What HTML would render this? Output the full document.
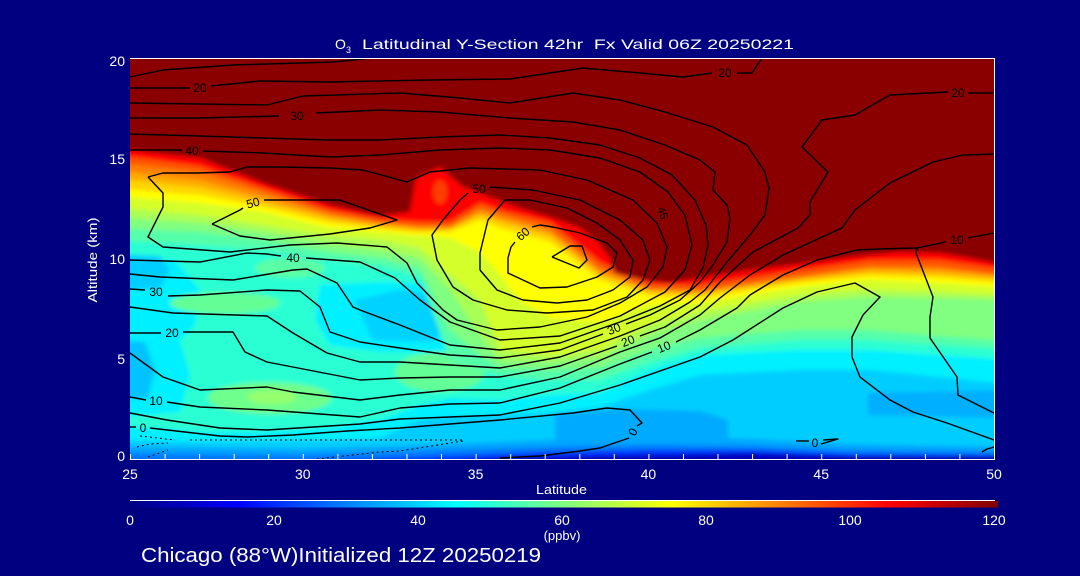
<!DOCTYPE html>
<html><head><meta charset="utf-8"><style>
html,body{margin:0;padding:0;background:#000080;}
svg{display:block;}
text{font-family:"Liberation Sans",sans-serif;}
</style></head><body>
<svg width="1080" height="576" viewBox="0 0 1080 576" xmlns="http://www.w3.org/2000/svg">
<defs>
<clipPath id="c"><rect x="130" y="58" width="864" height="401"/></clipPath>
<filter id="b" x="-5%" y="-5%" width="110%" height="110%"><feGaussianBlur stdDeviation="2"/></filter>
<linearGradient id="jet" x1="0" y1="0" x2="1" y2="0">
<stop offset="0" stop-color="#000080"/><stop offset="0.125" stop-color="#0000ff"/><stop offset="0.375" stop-color="#00ffff"/><stop offset="0.625" stop-color="#ffff00"/><stop offset="0.875" stop-color="#ff0000"/><stop offset="1" stop-color="#800000"/>
</linearGradient>
</defs>
<rect width="1080" height="576" fill="#000080"/>

<g clip-path="url(#c)">
<g filter="url(#b)">
<rect x="100" y="40" width="930" height="440" fill="rgb(0,205,255)"/>
<polygon fill="rgb(0,165,255)" points="110,446 300,449 450,444 550,440 650,437 750,439 850,444 1015,447 1015,480 110,480"/>
<polygon fill="rgb(0,170,255)" points="555,414 620,409 700,411 728,420 728,440 555,440"/>
<polygon fill="rgb(0,175,255)" points="868,393 1015,390 1015,418 868,415"/>
<polygon fill="rgb(0,120,255)" points="110,453 300,455 450,450 550,447 650,445 750,446 850,450 1015,452 1015,480 110,480"/>
<polygon fill="rgb(0,50,255)" points="110,462 300,461 420,457 550,452 650,450 750,450 850,454 1015,455 1015,480 110,480"/>
<polygon fill="rgb(0,0,190)" points="110,470 420,462 520,457 650,455 750,453 850,456 1015,456 1015,480 110,480"/>

<polygon fill="rgb(0,240,255)" points="110,440 200,442 263,441 330,440 380,438 420,420 450,417 500,415 550,413 600,407 650,390 700,375 800,370 870,370 940,377 1015,385 1015,-20 110,-20"/>
<polygon fill="rgb(43,255,212)" points="110,425 200,432 263,432 330,428 380,420 420,405 450,398 500,400 550,395 600,393 650,370 700,355 800,350 870,350 940,355 1015,360 1015,-20 110,-20"/>
<polygon fill="rgb(0,240,255)" points="110,258 175,260 200,290 195,325 180,340 190,375 180,412 110,418"/>
<polygon fill="rgb(0,205,255)" points="110,254 160,256 170,270 160,288 110,290"/>
<polygon fill="rgb(0,195,255)" points="110,340 145,342 155,370 148,398 110,400"/>
<polygon fill="rgb(0,240,255)" points="320,285 380,282 440,284 462,300 468,340 440,352 380,352 330,345 315,320"/>
<polygon fill="rgb(0,210,255)" points="355,300 400,290 440,296 450,325 432,342 372,340"/>
<ellipse cx="270" cy="398" rx="62" ry="16" fill="rgb(110,255,140)"/>
<ellipse cx="272" cy="397" rx="25" ry="7" fill="rgb(150,255,110)"/>
<ellipse cx="225" cy="303" rx="55" ry="11" fill="rgb(100,255,150)"/>
<ellipse cx="440" cy="372" rx="45" ry="20" fill="rgb(100,255,150)"/>
<ellipse cx="290" cy="268" rx="35" ry="10" fill="rgb(90,255,165)"/>

<polygon fill="rgb(85,255,170)" points="110,240 200,245 263,250 330,260 380,266 420,276 450,360 480,370 500,376 550,380 600,380 650,362 700,348 800,340 870,340 940,345 1015,350 1015,-20 110,-20"/>
<polygon fill="rgb(128,255,128)" points="110,228 200,232 263,240 330,252 380,258 420,268 450,330 480,355 500,368 550,370 600,368 650,350 700,338 800,330 870,330 940,336 1015,342 1015,-20 110,-20"/>
<polygon fill="rgb(170,255,85)" points="110,217 200,223 263,232 330,244 380,250 420,258 450,290 480,335 500,360 550,362 600,358 650,335 700,320 800,302 870,297 940,298 1015,300 1015,-20 110,-20"/>
<polygon fill="rgb(212,255,43)" points="110,207 200,215 263,225 330,236 380,240 420,248 450,275 480,300 500,350 550,356 600,350 650,325 700,312 800,295 870,290 940,292 1015,296 1015,-20 110,-20"/>
<polygon fill="rgb(255,255,0)" points="110,196 200,203 263,212 330,228 380,232 420,236 450,238 480,252 500,275 520,300 550,318 600,322 650,305 700,303 800,287 870,280 940,283 1015,288 1015,-20 110,-20"/>
<polygon fill="rgb(255,212,0)" points="110,188 200,195 263,207 330,223 380,229 420,233 450,232 480,220 500,228 550,242 600,280 650,296 700,298 800,283 870,276 940,278 1015,284 1015,-20 110,-20"/>
<polygon fill="rgb(255,170,0)" points="110,178 200,187 263,202 330,219 380,226 420,230 450,229 480,215 500,222 550,236 600,275 650,292 700,294 800,280 870,272 940,274 1015,280 1015,-20 110,-20"/>
<polygon fill="rgb(255,128,0)" points="110,170 200,180 263,197 330,216 380,224 420,228 450,228 480,212 500,218 550,232 600,272 650,290 700,292 800,278 870,269 940,270 1015,278 1015,-20 110,-20"/>
<polygon fill="rgb(255,85,0)" points="110,162 200,172 263,192 330,213 380,222 420,226 450,226 480,208 500,214 550,228 600,268 650,288 700,290 800,276 870,266 940,267 1015,276 1015,-20 110,-20"/>
<polygon fill="rgb(255,0,0)" points="110,154 200,166 263,188 330,210 380,219 420,222 450,222 480,203 500,210 550,222 600,262 650,284 700,285 800,270 870,260 940,260 1015,271 1015,-20 110,-20"/>
<polygon fill="#8a0000" points="110,148 200,158 263,183 330,205 380,216 410,212 416,178 440,167 463,187 490,197 520,208 553,218 580,228 597,241 610,258 615,273 640,279 667,283 700,278 750,270 800,264 850,257 900,252 940,253 970,258 1015,267 1015,-20 110,-20"/>
<ellipse cx="440" cy="192" rx="7" ry="12" fill="rgb(255,60,0)"/>
</g>

<g fill="none" stroke="#000" stroke-width="1.4" stroke-linejoin="round">
<polyline points="130,77 163,70 233,65 333,62 373,58"/>
<polyline points="130,88 190,88"/>
<polyline points="211,86 260,81 330,82 430,80 510,79 583,68 640,73 683,77 712,73"/>
<polyline points="737,73 752,73 762,58"/>
<polyline points="130,103 200,104 267,105 303,96 400,93 460,98 510,103 573,93 620,100 665,112 713,127 747,145 765,172 769,188 765,215 750,235 727,262 705,290 690,302 660,320 620,336 560,357 500,368 450,365 400,362 360,362 327,353 293,333 267,316 173,313 130,307"/>
<polyline points="130,289 145,290"/>
<polyline points="168,296 200,295 267,290 300,291 320,307 330,332 360,342 400,348 450,355 500,358 560,350 603,334"/>
<polyline points="626,324 650,315 680,300 700,282 713,265 727,242 730,218 727,205 713,190 715,172 700,160 665,145 620,130 573,122 510,118 440,112 380,110 316,113"/>
<polyline points="279,116 200,118 130,118"/>
<polyline points="130,274 160,277 233,280 293,270 307,269 337,283 353,307 360,310 400,325 450,345 500,350 560,343 620,322 660,306 690,290 703,268 708,245 706,225 695,200 672,175 640,158 600,145 550,138 500,135 440,137 380,140 330,140 263,138 200,136 130,134"/>
<polyline points="130,150 182,150"/>
<polyline points="203,151 263,153 330,157 380,155 440,150 500,148 550,150 600,158 640,172 668,192 685,215 692,245 685,270 665,292 620,316 560,336 500,340 450,322 420,300 395,278 360,262 306,258"/>
<polyline points="281,256 267,254 247,253 200,262 130,260"/>
<polyline points="148,177 163,173 197,173 230,172 247,167 280,167 330,168 363,170 407,182 430,172 470,168 540,170 587,180 633,200 657,223 667,247 663,267 647,287 620,303 587,317 540,327 497,330 457,320 443,310 417,283 407,263 387,247 337,243 290,245 230,252 163,247 148,237 163,207 163,193 148,177"/>
<polyline points="212,224 240,210 243,208"/>
<polyline points="264,200 340,200 397,220 370,228 330,234 270,240 240,236 212,224"/>
<polyline points="468,193 460,200 443,220 432,235 437,260 453,287 473,300 507,310 547,313 593,310 627,297 643,280 650,260 643,240 620,220 580,200 533,190 490,187"/>
<polyline points="480,270 480,253 488,220 505,200 530,200 567,208 597,223 620,240 633,260 630,277 613,290 587,300 557,303 523,300 497,290 480,270"/>
<polyline points="515,242 511,247 508,258 508,273 540,288 567,287 597,277 613,267 617,253 607,243 580,233 553,227 540,225 532,227"/>
<polyline points="552,257 570,246 582,246 587,260 579,268 552,257"/>
<polyline points="994,93 968,93"/>
<polyline points="948,92 890,95 855,115 822,120 802,147 828,172 810,202 810,215 798,228 753,252 720,282 700,305 665,327 640,336"/>
<polyline points="617,346 560,366 500,377 450,377 400,378 360,380 267,362 245,352 233,332 183,332"/>
<polyline points="161,333 130,333"/>
<polyline points="994,154 963,155 933,162 890,183 855,210 842,228 820,238 783,255 750,275 720,298 700,315 660,338 620,352 560,377 500,390 450,390 400,395 360,400 293,392 267,387 200,390 163,377 130,353"/>
<polyline points="994,233 968,238"/>
<polyline points="946,242 917,248 880,249 857,250 817,260 783,275 750,295 737,308 700,330 676,342"/>
<polyline points="652,352 620,364 560,388 500,403 450,404 400,408 360,417 267,410 200,407 167,402"/>
<polyline points="146,400 130,397"/>
<polyline points="917,248 916,253 933,297 930,317 930,338 957,377 958,395 994,413"/>
<polyline points="130,413 167,420 220,428 267,430 360,424 400,419 450,417 500,415 560,403 620,385 700,357 733,340 783,308 817,292 855,283 880,297 863,315 852,337 852,357 860,377 890,400 913,412 947,423 994,440"/>
<polyline points="130,427 136,427"/>
<polyline points="150,428 220,436 247,437 293,435 347,431 400,428 450,424 500,420 573,413 607,408 630,410 642,423 637,426"/>
<polyline points="629,438 600,448 580,451 540,456 500,458"/>
<polyline points="796,441 809,441"/>
<polyline points="821,444 838,439 823,440"/>
<polyline points="982,452 987,449 994,447"/>
</g>
<g fill="none" stroke="#000" stroke-width="1" stroke-dasharray="2,3">
<polyline points="140,436 175,440"/>
<polyline points="190,440 465,440"/>
<polyline points="137,447 150,444 168,443"/>
<polyline points="148,457 168,450"/>
<polyline points="317,459 380,452 400,451 463,441"/>
</g>
<g font-size="12" fill="#000" text-anchor="middle">
<text x="200" y="92">20</text>
<text x="297" y="120">30</text>
<text x="192" y="155">40</text>
<text x="253" y="207" transform="rotate(-15 253 203)">50</text>
<text x="293" y="262">40</text>
<text x="156" y="296">30</text>
<text x="172" y="337">20</text>
<text x="156" y="405">10</text>
<text x="143" y="432">0</text>
<text x="479" y="193">50</text>
<text x="523" y="238" transform="rotate(-40 523 234)">60</text>
<text x="663" y="217" font-size="11" transform="rotate(70 663 213)">45</text>
<text x="614" y="333" transform="rotate(-22 614 329)">30</text>
<text x="628" y="345" transform="rotate(-22 628 341)">20</text>
<text x="664" y="351" transform="rotate(-22 664 347)">10</text>
<text x="633" y="436" transform="rotate(-60 633 432)">0</text>
<text x="725" y="77">20</text>
<text x="958" y="97">20</text>
<text x="957" y="244">10</text>
<text x="815" y="447">0</text>
</g>
</g>

<g stroke="#fff" stroke-width="1" fill="none">
<line x1="130" y1="58.5" x2="995" y2="58.5"/>
<line x1="994.5" y1="58" x2="994.5" y2="460"/>
<line x1="130" y1="459.5" x2="995" y2="459.5"/>
<path d="M130.5 454V459M165.1 454V459M199.6 454V459M234.2 454V459M268.7 454V459M303.3 454V459M337.9 454V459M372.4 454V459M407 454V459M441.5 454V459M476.1 454V459M510.7 454V459M545.2 454V459M579.8 454V459M614.3 454V459M648.9 454V459M683.5 454V459M718 454V459M752.6 454V459M787.1 454V459M821.7 454V459M856.3 454V459M890.8 454V459M925.4 454V459M959.9 454V459M994.5 454V459"/>
<line x1="130" y1="500.5" x2="995" y2="500.5"/>
</g>
<rect x="130" y="501" width="868" height="6.5" fill="url(#jet)"/>

<g fill="#fff" font-size="14">
<text x="335" y="49">O</text>
<text x="346" y="53" font-size="9">3</text>
<text x="362" y="49" textLength="432" lengthAdjust="spacingAndGlyphs" xml:space="preserve">Latitudinal Y-Section 42hr  Fx Valid 06Z 20250221</text>
<g text-anchor="end">
<text x="125" y="66">20</text>
<text x="125" y="164">15</text>
<text x="125" y="264">10</text>
<text x="125" y="364">5</text>
<text x="125" y="461">0</text>
</g>
<g text-anchor="middle">
<text x="130" y="479">25</text>
<text x="302.8" y="479">30</text>
<text x="475.6" y="479">35</text>
<text x="648.4" y="479">40</text>
<text x="821.2" y="479">45</text>
<text x="994" y="479">50</text>
<text x="130" y="525">0</text>
<text x="274" y="525">20</text>
<text x="418" y="525">40</text>
<text x="562" y="525">60</text>
<text x="706" y="525">80</text>
<text x="850" y="525">100</text>
<text x="994" y="525">120</text>
<text x="562" y="540" font-size="13">(ppbv)</text>
</g>
<text x="536" y="494" font-size="13" textLength="51" lengthAdjust="spacingAndGlyphs">Latitude</text>
<text transform="translate(97,260) rotate(-90)" text-anchor="middle" font-size="13" textLength="85" lengthAdjust="spacingAndGlyphs">Altitude (km)</text>
<text x="141" y="562" font-size="20" textLength="400" lengthAdjust="spacingAndGlyphs">Chicago (88°W)Initialized 12Z 20250219</text>
</g>
</svg>
</body></html>
